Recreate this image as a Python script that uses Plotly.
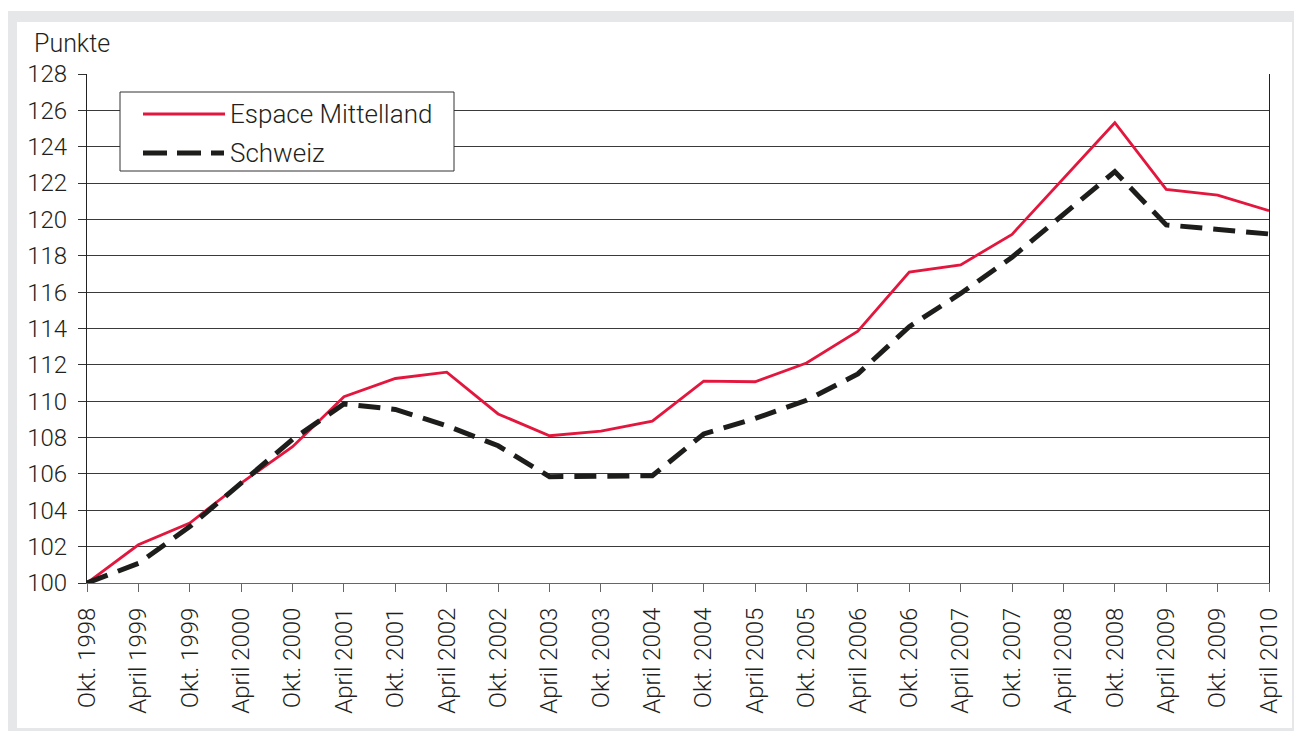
import plotly.graph_objects as go

# Index values (Okt. 1998 = 100)
perioden = ["Okt. 1998", "April 1999", "Okt. 1999", "April 2000", "Okt. 2000", "April 2001",
            "Okt. 2001", "April 2002", "Okt. 2002", "April 2003", "Okt. 2003", "April 2004",
            "Okt. 2004", "April 2005", "Okt. 2005", "April 2006", "Okt. 2006", "April 2007",
            "Okt. 2007", "April 2008", "Okt. 2008", "April 2009", "Okt. 2009", "April 2010"]
espace_mittelland = [100.0, 102.1, 103.3, 105.5, 107.5, 110.25, 111.25, 111.6, 109.3, 108.1,
                     108.35, 108.9, 111.1, 111.07, 112.1, 113.85, 117.1, 117.5, 119.18, 122.25,
                     125.32, 121.65, 121.34, 120.48]
schweiz = [100.0, 101.08, 103.1, 105.5, 107.9, 109.85, 109.55, 108.65, 107.55, 105.85,
           105.9, 105.9, 108.2, 109.05, 110.05, 111.5, 114.1, 115.93, 117.92, 120.25,
           122.63, 119.7, 119.47, 119.2]

FONT = "Roboto, Liberation Sans, Arial, sans-serif"
FW = 300
TXT = "#231f20"
RED = "#e3173e"
BLK = "#1d1d1b"

# page body has an 8px margin, so the figure is drawn 8px smaller and shifted
OFF = 8
W, H = 1302 - OFF, 731 - OFF
# plot area in page pixels: x 87..1269, y 74..583
L, R, T, B = 87, 1269, 74, 583

def px(x):
    return (x - L) / (R - L)

def py(y):
    return (B - y) / (B - T)

def txt(size=24):
    return dict(size=size, color=TXT, family=FONT, weight=FW)

fig = go.Figure()
fig.add_trace(go.Scatter(x=perioden, y=espace_mittelland, mode="lines", name="Espace Mittelland",
                         line=dict(color=RED, width=2.8), showlegend=False))
fig.add_trace(go.Scatter(x=perioden, y=schweiz, mode="lines", name="Schweiz",
                         line=dict(color=BLK, width=5, dash="22px,11px"), showlegend=False))

shapes = [
    # grey frame around the white panel
    dict(type="rect", xref="paper", yref="paper", layer="below",
         x0=px(6), x1=px(1320), y0=py(750), y1=py(11), fillcolor="#e6e7e8", line_width=0),
    dict(type="rect", xref="paper", yref="paper", layer="below",
         x0=px(17), x1=px(1292), y0=py(728), y1=py(22), fillcolor="white", line_width=0),
    # hand-made legend
    dict(type="rect", xref="paper", yref="paper", x0=px(120), x1=px(454), y0=py(171), y1=py(92),
         fillcolor="white", line=dict(color="#333333", width=1)),
    dict(type="line", xref="paper", yref="paper", x0=px(143), x1=px(225), y0=py(114), y1=py(114),
         line=dict(color=RED, width=2.8)),
    dict(type="line", xref="paper", yref="paper", x0=px(143), x1=px(224), y0=py(153), y1=py(153),
         line=dict(color=BLK, width=5, dash="24px,10px")),
]
annotations = [
    dict(text="Espace Mittelland", xref="paper", yref="paper", x=px(228), y=py(114),
         xanchor="left", yanchor="middle", showarrow=False, font=txt(26)),
    dict(text="Schweiz", xref="paper", yref="paper", x=px(228), y=py(153),
         xanchor="left", yanchor="middle", showarrow=False, font=txt(26)),
    dict(text="Punkte", xref="paper", yref="paper", x=px(32), y=py(43),
         xanchor="left", yanchor="middle", showarrow=False, font=txt(25)),
]

fig.update_layout(
    width=W, height=H,
    margin=dict(l=L - OFF, r=1302 - R, t=T - OFF, b=731 - B),
    paper_bgcolor="white", plot_bgcolor="rgba(0,0,0,0)",
    font=txt(24),
    shapes=shapes, annotations=annotations,
    xaxis=dict(type="category", range=[0, len(perioden) - 1], tickangle=-90,
               ticks="outside", ticklen=8, tickcolor="#666666", showgrid=False,
               showline=True, linecolor="#666666", linewidth=1, ticklabelstandoff=6,
               tickfont=txt(24)),
    yaxis=dict(range=[100, 128], dtick=2, ticks="outside", ticklen=8, tickcolor="#333333",
               showgrid=True, gridcolor="#3a3a3a", gridwidth=1, zeroline=False,
               showline=True, linecolor="#222222", linewidth=1.2, mirror=True,
               ticklabelstandoff=6, tickfont=txt(24)),
)

fig.write_html("out.html")
